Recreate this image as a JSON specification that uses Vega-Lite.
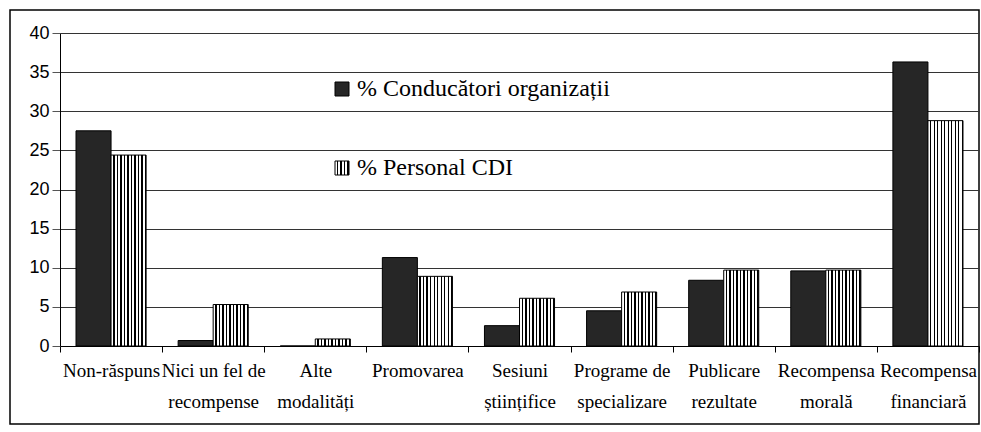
{
  "$schema": "https://vega.github.io/schema/vega-lite/v6.json",
  "width": 969,
  "height": 414,
  "autosize": {"type": "none"},
  "padding": {"left": 10, "top": 10, "right": 2, "bottom": 8},
  "background": "white",
  "config": {
    "view": {"stroke": "black", "strokeWidth": 1.5, "fill": "white"}
  },
  "data": {
    "values": [
      {"category": "Non-răspuns", "series": "% Conducători organizații", "value": 27.5},
      {"category": "Non-răspuns", "series": "% Personal CDI", "value": 24.4},
      {"category": "Nici un fel de recompense", "series": "% Conducători organizații", "value": 0.7},
      {"category": "Nici un fel de recompense", "series": "% Personal CDI", "value": 5.3},
      {"category": "Alte modalități", "series": "% Conducători organizații", "value": 0},
      {"category": "Alte modalități", "series": "% Personal CDI", "value": 0.9},
      {"category": "Promovarea", "series": "% Conducători organizații", "value": 11.3},
      {"category": "Promovarea", "series": "% Personal CDI", "value": 8.9},
      {"category": "Sesiuni științifice", "series": "% Conducători organizații", "value": 2.6},
      {"category": "Sesiuni științifice", "series": "% Personal CDI", "value": 6.1},
      {"category": "Programe de specializare", "series": "% Conducători organizații", "value": 4.5},
      {"category": "Programe de specializare", "series": "% Personal CDI", "value": 6.9},
      {"category": "Publicare rezultate", "series": "% Conducători organizații", "value": 8.4},
      {"category": "Publicare rezultate", "series": "% Personal CDI", "value": 9.7},
      {"category": "Recompensa morală", "series": "% Conducători organizații", "value": 9.6},
      {"category": "Recompensa morală", "series": "% Personal CDI", "value": 9.7},
      {"category": "Recompensa financiară", "series": "% Conducători organizații", "value": 36.3},
      {"category": "Recompensa financiară", "series": "% Personal CDI", "value": 28.8}
    ]
  },
  "mark": {
    "type": "bar",
    "strokeWidth": 1,
    "fillOpacity": 1,
    "fill": {"expr": "(datum.series || datum.value) === '% Personal CDI' ? {gradient: 'linear', x1: 0, y1: 0, x2: 1, y2: 0, stops: [{offset: 0, color: 'white'}, {offset: 0.06, color: 'white'}, {offset: 0.06, color: 'black'}, {offset: 0.1, color: 'black'}, {offset: 0.1, color: 'white'}, {offset: 0.16, color: 'white'}, {offset: 0.16, color: 'black'}, {offset: 0.2, color: 'black'}, {offset: 0.2, color: 'white'}, {offset: 0.26, color: 'white'}, {offset: 0.26, color: 'black'}, {offset: 0.3, color: 'black'}, {offset: 0.3, color: 'white'}, {offset: 0.36, color: 'white'}, {offset: 0.36, color: 'black'}, {offset: 0.4, color: 'black'}, {offset: 0.4, color: 'white'}, {offset: 0.46, color: 'white'}, {offset: 0.46, color: 'black'}, {offset: 0.5, color: 'black'}, {offset: 0.5, color: 'white'}, {offset: 0.56, color: 'white'}, {offset: 0.56, color: 'black'}, {offset: 0.6, color: 'black'}, {offset: 0.6, color: 'white'}, {offset: 0.66, color: 'white'}, {offset: 0.66, color: 'black'}, {offset: 0.7, color: 'black'}, {offset: 0.7, color: 'white'}, {offset: 0.76, color: 'white'}, {offset: 0.76, color: 'black'}, {offset: 0.8, color: 'black'}, {offset: 0.8, color: 'white'}, {offset: 0.86, color: 'white'}, {offset: 0.86, color: 'black'}, {offset: 0.9, color: 'black'}, {offset: 0.9, color: 'white'}, {offset: 0.96, color: 'white'}, {offset: 0.96, color: 'black'}, {offset: 1, color: 'black'}]} : '#262626'"}
  },
  "encoding": {
    "x": {
      "field": "category",
      "type": "nominal",
      "sort": null,
      "scale": {"range": [50, 969], "paddingInner": 0, "paddingOuter": 0},
      "axis": {
        "title": null,
        "offset": -78,
        "tickBand": "extent",
        "labelAngle": 0,
        "labelFont": "Liberation Serif",
        "labelFontSize": 19,
        "labelColor": "black",
        "labelLineHeight": 31,
        "labelPadding": 9,
        "labelLimit": 200,
        "labelExpr": "indexof(datum.label,' ')<0 ? datum.label : [substring(datum.label,0,lastindexof(datum.label,' ')), substring(datum.label,lastindexof(datum.label,' ')+1)]",
        "tickSize": 6,
        "tickColor": "black",
        "domainColor": "black",
        "grid": false
      }
    },
    "xOffset": {
      "field": "series",
      "type": "nominal",
      "scale": {"paddingInner": 0, "paddingOuter": 0.457}
    },
    "y": {
      "field": "value",
      "type": "quantitative",
      "scale": {"domain": [0, 40], "range": [336, 23], "nice": false},
      "axis": {
        "title": null,
        "offset": -50,
        "values": [0, 5, 10, 15, 20, 25, 30, 35, 40],
        "labelFont": "Liberation Sans",
        "labelFontSize": 18,
        "labelColor": "black",
        "labelPadding": 3,
        "tickSize": 8,
        "tickColor": "#555",
        "domainColor": "black",
        "grid": true,
        "gridColor": "#333",
        "gridWidth": 1
      }
    },
    "stroke": {
      "field": "series",
      "type": "nominal",
      "scale": {
        "domain": ["% Conducători organizații", "% Personal CDI"],
        "range": ["black", "black"]
      },
      "legend": {
        "title": null,
        "orient": "none",
        "legendX": 320,
        "legendY": 67,
        "padding": 0,
        "symbolType": "square",
        "symbolSize": 196,
        "symbolStrokeWidth": 1,
        "symbolOpacity": 1,
        "labelFont": "Liberation Serif",
        "labelFontSize": 24,
        "labelColor": "black",
        "labelOffset": 3,
        "labelLimit": 400,
        "rowPadding": 55
      }
    }
  }
}
